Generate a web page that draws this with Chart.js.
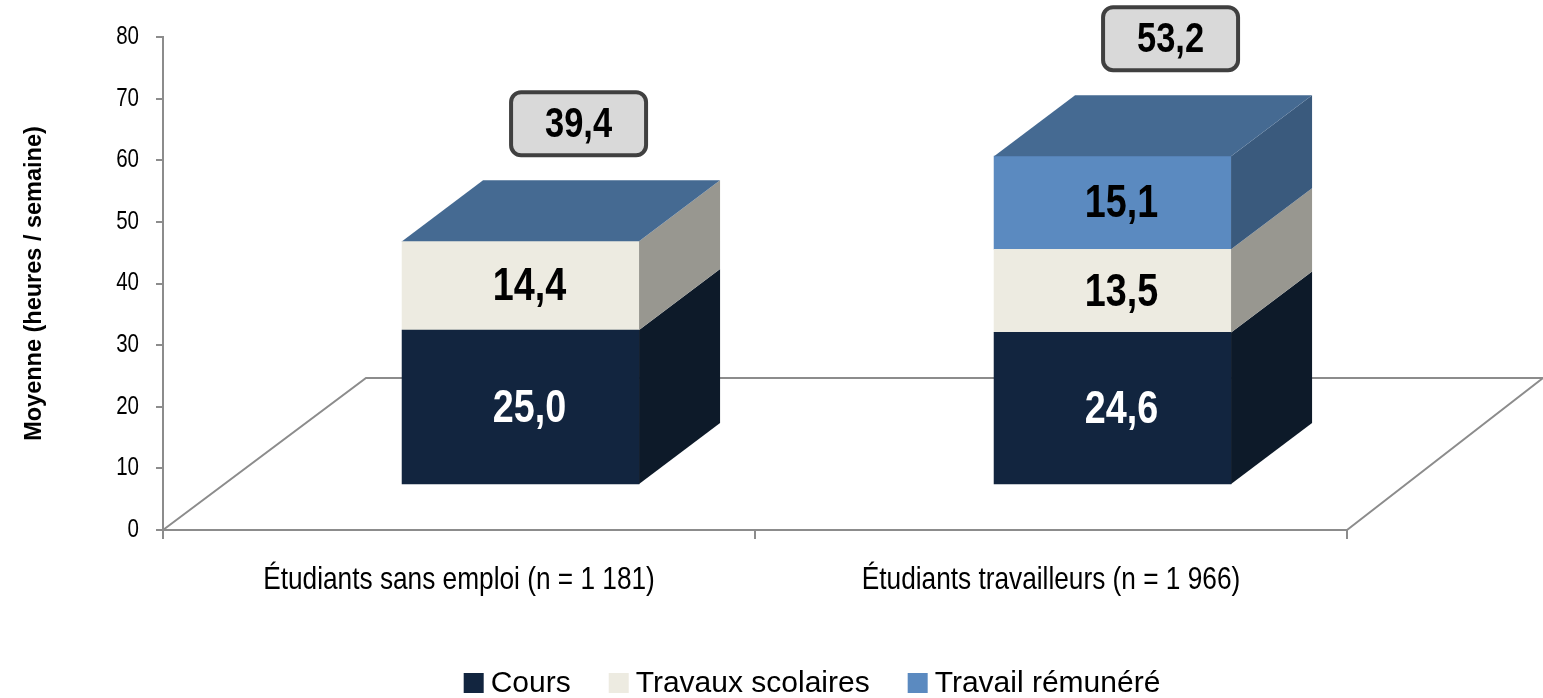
<!DOCTYPE html>
<html>
<head>
<meta charset="utf-8">
<script src="https://cdn.jsdelivr.net/npm/chart.js@4.4.1/dist/chart.umd.min.js"></script>
<style>
  body { margin: 0; background: #fff; }
  #wrap { width: 1543px; height: 698px; position: relative; }
</style>
</head>
<body>
<div id="wrap"><canvas id="chart"></canvas></div>
<script>
const categories = ["Étudiants sans emploi (n = 1 181)", "Étudiants travailleurs (n = 1 966)"];
const seriesNames = ["Cours", "Travaux scolaires", "Travail rémunéré"];
const cours = [25.0, 24.6];
const travauxScolaires = [14.4, 13.5];
const travailRemunere = [0, 15.1];
const yTicks = [0, 10, 20, 30, 40, 50, 60, 70, 80];
const yTitle = "Moyenne (heures / semaine)";

const seriesValues = [cours, travauxScolaires, travailRemunere];
const frontColors = ["#12253F", "#EDEBE1", "#5B8AC0"];
const sideColors = ["#0D1A29", "#989790", "#3A5A7D"];
const topColor = "#456A92";
const labelColors = ["#FFFFFF", "#000000", "#000000"];

const FONT = "'Liberation Sans', Arial, sans-serif";
// no Arial Narrow here, so squeeze Liberation Sans horizontally
const NARROW_SCALE = 0.82;

// depth of the bars and of the floor, in pixels
const DX = 81, DY = 61;
const FLOOR_DX = 203, FLOOR_DY = 152, FLOOR_DX_RIGHT = 196;

const fmt = v => v.toFixed(1).replace(".", ",");

function narrowText(ctx, text, x, y, font, color, align, baseline) {
  ctx.save();
  ctx.font = font;
  ctx.fillStyle = color;
  ctx.textAlign = align;
  ctx.textBaseline = baseline;
  ctx.translate(x, y);
  ctx.scale(NARROW_SCALE, 1);
  ctx.fillText(text, 0, 0);
  ctx.restore();
}

const threeD = {
  id: "threeD",
  beforeDatasetsDraw(chart) {
    const { ctx, chartArea: a } = chart;
    ctx.save();
    ctx.strokeStyle = "#8C8C8C";
    ctx.lineWidth = 2;
    ctx.beginPath();
    ctx.moveTo(a.left, a.bottom);
    ctx.lineTo(a.left + FLOOR_DX, a.bottom - FLOOR_DY);
    ctx.lineTo(a.right + FLOOR_DX_RIGHT, a.bottom - FLOOR_DY);
    ctx.lineTo(a.right, a.bottom);
    ctx.stroke();
    ctx.restore();
  },
  afterDatasetsDraw(chart) {
    const { ctx } = chart;
    ctx.save();
    categories.forEach((_, j) => {
      let topY = null, left = 0, right = 0, cx = 0;
      seriesValues.forEach((vals, i) => {
        const el = chart.getDatasetMeta(i).data[j];
        left = el.x - el.width / 2;
        right = el.x + el.width / 2;
        cx = el.x;
        const top = Math.min(el.y, el.base), bottom = Math.max(el.y, el.base);
        topY = top;
        if (bottom - top > 0.5) {
          ctx.fillStyle = sideColors[i];
          ctx.beginPath();
          ctx.moveTo(right, bottom);
          ctx.lineTo(right, top);
          ctx.lineTo(right + DX, top - DY);
          ctx.lineTo(right + DX, bottom - DY);
          ctx.closePath();
          ctx.fill();
        }
      });
      // top face
      ctx.fillStyle = topColor;
      ctx.beginPath();
      ctx.moveTo(left, topY);
      ctx.lineTo(left + DX, topY - DY);
      ctx.lineTo(right + DX, topY - DY);
      ctx.lineTo(right, topY);
      ctx.closePath();
      ctx.fill();

      // segment labels
      seriesValues.forEach((vals, i) => {
        if (!vals[j]) return;
        const el = chart.getDatasetMeta(i).data[j];
        narrowText(ctx, fmt(vals[j]), el.x + 9, (el.y + el.base) / 2 + 2, "bold 46px " + FONT, labelColors[i], "center", "middle");
      });

      // total box
      const total = seriesValues.reduce((s, vals) => s + vals[j], 0);
      const bw = 135, bh = 63;
      const bx = cx + 58 - bw / 2, by = topY - DY - 25 - bh;
      ctx.fillStyle = "#D9D9D9";
      ctx.strokeStyle = "#404040";
      ctx.lineWidth = 4;
      ctx.beginPath();
      ctx.roundRect(bx, by, bw, bh, 10);
      ctx.fill();
      ctx.stroke();
      narrowText(ctx, fmt(total), bx + bw / 2, by + bh / 2 + 2, "bold 42px " + FONT, "#000", "center", "middle");
    });
    ctx.restore();
  },
  afterDraw(chart) {
    const { ctx } = chart;
    const xs = chart.scales.x, ys = chart.scales.y;

    // axis tick labels, placed with the scales
    ys.ticks.forEach(t => {
      narrowText(ctx, String(t.value), xs.left - 24, ys.getPixelForValue(t.value), "25px " + FONT, "#000", "right", "middle");
    });
    categories.forEach((c, j) => {
      narrowText(ctx, c, xs.getPixelForValue(j), xs.top + 59, "32px " + FONT, "#000", "center", "alphabetic");
    });

    // legend
    ctx.save();
    ctx.font = "30px " + FONT;
    ctx.textBaseline = "middle";
    ctx.textAlign = "left";
    const box = 20, gap = 7, sep = 38, cy = 683;
    const widths = seriesNames.map(n => ctx.measureText(n).width);
    const total = widths.reduce((s, w) => s + box + gap + w, 0) + sep * (seriesNames.length - 1);
    let x = 812 - total / 2;
    seriesNames.forEach((name, i) => {
      ctx.fillStyle = frontColors[i];
      ctx.fillRect(x, cy - 10, box, box);
      ctx.fillStyle = "#000";
      ctx.fillText(name, x + box + gap, cy + 1);
      x += box + gap + widths[i] + sep;
    });
    ctx.restore();
  }
};

new Chart(document.getElementById("chart"), {
  type: "bar",
  data: {
    labels: categories,
    datasets: seriesValues.map((vals, i) => ({
      label: seriesNames[i],
      data: vals.map((v, j) => ({ x: j, y: v })),
      backgroundColor: frontColors[i],
      borderWidth: 0,
      xAxisID: "x2",
      yAxisID: "y2",
      barThickness: 237,
    })),
  },
  options: {
    responsive: true,
    maintainAspectRatio: false,
    animation: false,
    layout: { padding: { top: 37, right: 196, bottom: 60, left: 0 } },
    plugins: {
      legend: { display: false },
      tooltip: { enabled: false },
    },
    scales: {
      x: {
        type: "category",
        offset: true,
        grid: { display: true, drawOnChartArea: false, drawTicks: true, tickLength: 9, color: "#8C8C8C", lineWidth: 2, offset: true },
        border: { color: "#8C8C8C", width: 2 },
        ticks: { display: false },
        afterFit: s => { s.height = 108; },
      },
      y: {
        type: "linear",
        min: yTicks[0],
        max: yTicks[yTicks.length - 1],
        grid: { display: true, drawOnChartArea: false, drawTicks: true, tickLength: 7, color: "#8C8C8C", lineWidth: 2 },
        border: { color: "#8C8C8C", width: 2 },
        ticks: { display: false, stepSize: yTicks[1] - yTicks[0] },
        title: { display: true, text: yTitle, color: "#000", font: { family: FONT, size: 23.5, weight: "bold" }, padding: { top: 20, bottom: 0 } },
        afterFit: s => { s.width = 163; },
      },
      x2: { type: "linear", display: false, stacked: true, offset: false, min: -0.604, max: 1.396 },
      y2: { type: "linear", display: false, stacked: true, min: -7.46, max: 72.54 },
    },
  },
  plugins: [threeD],
});
</script>
</body>
</html>
